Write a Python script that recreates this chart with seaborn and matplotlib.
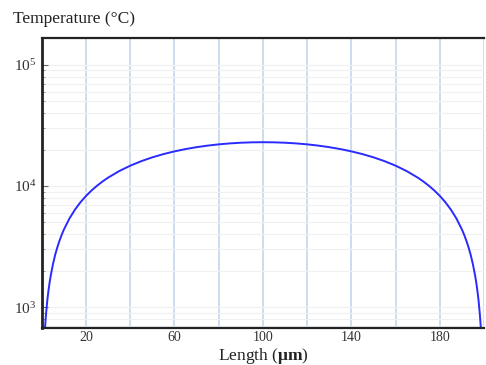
import matplotlib
matplotlib.use("Agg")
import matplotlib.pyplot as plt
import seaborn as sns
import pandas as pd
from matplotlib.ticker import LogLocator, NullFormatter

sns.set_style("white")
plt.rcParams['font.family'] = ['Liberation Serif', 'DejaVu Serif']
plt.rcParams['mathtext.fontset'] = 'custom'
plt.rcParams['mathtext.rm'] = 'Liberation Serif'
plt.rcParams['mathtext.it'] = 'Liberation Serif:italic'
plt.rcParams['mathtext.bf'] = 'Liberation Serif:bold'

# data
length_um = [1.2, 1.5, 1.8, 2, 2.5, 3, 3.5, 4, 5, 6, 7, 8, 9, 10, 12.5, 15, 17.5, 20, 22.5, 25, 27.5, 30,
             35, 40, 45, 50, 55, 60, 65, 70, 75, 80, 85, 90, 95, 100,
             105, 110, 115, 120, 125, 130, 135, 140, 145, 150, 155, 160, 165,
             170, 172.5, 175, 177.5, 180, 182.5, 185, 187.5, 190, 191, 192, 193, 194, 195, 196, 196.5, 197, 197.5, 198, 198.2, 198.5, 198.8]
temperature_c = [550, 690, 821, 910, 1140, 1360, 1582, 1800, 2240, 2680, 3107, 3530, 3954, 4370, 5390, 6380, 7346, 8280, 9186, 10060, 10910, 11730,
                 13280, 14720, 16040, 17250, 18340, 19320, 20180, 20930, 21560, 22080, 22480, 22770, 22940, 23000,
                 22940, 22770, 22480, 22080, 21560, 20930, 20180, 19320, 18340, 17250, 16040, 14720, 13280,
                 11730, 10910, 10060, 9186, 8280, 7346, 6380, 5390, 4370, 3954, 3530, 3107, 2680, 2240, 1800, 1582, 1360, 1140, 910, 821, 690, 550]
x_ticks = [20, 40, 60, 80, 100, 120, 140, 160, 180, 200]
x_labels = ['20', '', '60', '', '100', '', '140', '', '180', '']

df = pd.DataFrame({'Length': length_um, 'Temperature': temperature_c})

fig = plt.figure(figsize=(4.86, 3.65), dpi=100)
ax = fig.add_axes([0.086, 0.101, 0.91, 0.795])

ax.set_yscale('log')
ax.set_xlim(0, 200)
ax.set_ylim(670, 1.67e5)

ax.yaxis.set_minor_locator(LogLocator(base=10, subs=range(2, 10)))
ax.yaxis.set_minor_formatter(NullFormatter())
ax.grid(True, which='both', axis='y', color='#f0f0f0', linewidth=0.9)
ax.set_xticks(x_ticks)
ax.set_xticklabels(x_labels)
ax.grid(True, axis='x', color='#c8daf0', linewidth=1.3)
ax.set_axisbelow(True)

sns.lineplot(data=df, x='Length', y='Temperature', ax=ax, color='#2a2aff', linewidth=1.4, sort=False)

ax.set_xlabel('')
ax.set_ylabel('')
fig.text(0.541, 0.024, 'Length ($\\mathbf{μm}$)', fontsize=12.5, color='#222222', va='center', ha='center')
fig.text(0.027, 0.947, 'Temperature (°C)', fontsize=12.5, color='#222222', va='center', ha='left')

for s in ['left', 'top', 'bottom']:
    ax.spines[s].set_visible(True)
    ax.spines[s].set_color('#222222')
ax.spines['left'].set_linewidth(2.0)
ax.spines['top'].set_linewidth(1.6)
ax.spines['bottom'].set_linewidth(1.6)
ax.spines['right'].set_visible(False)

ax.tick_params(axis='x', length=0, labelsize=10, labelcolor='#333333', pad=2)
ax.tick_params(axis='y', which='major', direction='in', length=4, width=0.8, color='#666666',
               labelsize=11, labelcolor='#333333', left=True, pad=4)
ax.tick_params(axis='y', which='minor', direction='in', length=2.5, width=0.6, color='#888888', left=True)

fig.savefig('out.png', dpi=100)
